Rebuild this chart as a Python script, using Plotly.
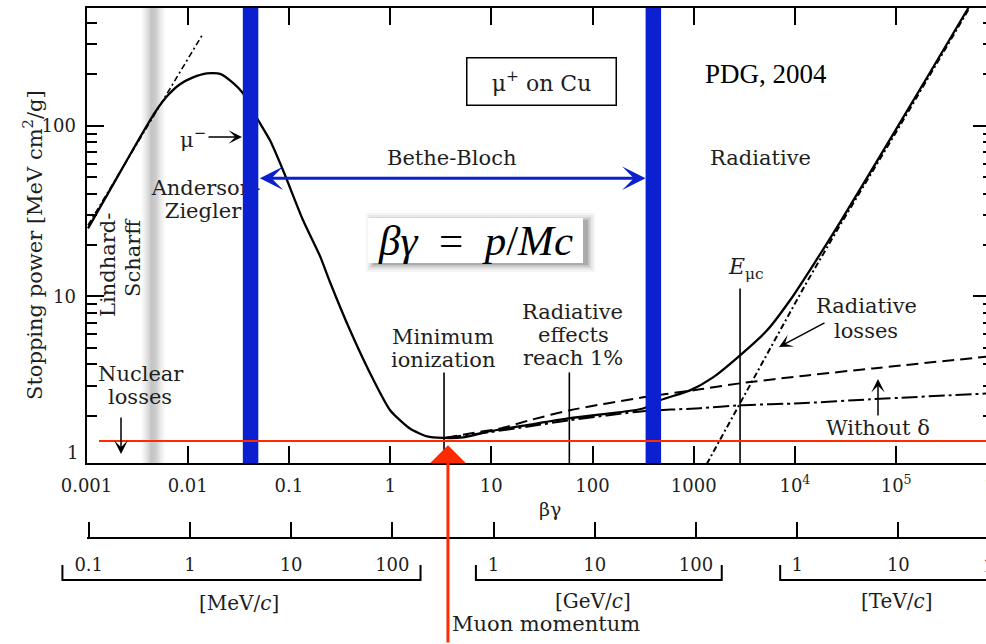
import math
import plotly.graph_objects as go

# ---------------------------------------------------------------
# Stopping power of positive muons in copper as a function of βγ
# ---------------------------------------------------------------

# total stopping power (solid)
bg_total = [0.001035, 0.00136, 0.002143, 0.003378, 0.004751, 0.006243, 0.008391, 0.011282,
            0.015511, 0.020855, 0.028033, 0.0352, 0.0496, 0.065, 0.0875, 0.138, 0.203, 0.255,
            0.402, 0.634, 1.0, 1.57, 2.32, 3.33, 5.25, 9.7, 24.1, 60.0, 149, 316, 465, 920,
            1552, 2870, 5310, 8950, 15100, 27900, 93200, 500800, 600800]
dedx_total = [25.0, 33.2, 53.3, 85.5, 119.8, 148.7, 174.9, 192.2,
              202.9, 201.5, 178.4, 155, 108, 82.1, 54.8, 27.9, 17.2, 12.1,
              6.32, 3.54, 2.15, 1.68, 1.51, 1.48, 1.49, 1.62, 1.77, 1.93, 2.06, 2.20, 2.46, 2.81,
              3.35, 4.51, 6.32, 9.48, 15.2, 27.1, 89.0, 475, 581]

# radiative losses (dotted)
bg_radiative = [1154, 1353, 2867, 6075, 12880, 27900, 93200, 500800, 600800]
dedx_radiative = [0.881, 1.05, 2.36, 5.30, 11.9, 26.1, 85.5, 462, 558]

# ionization without the density-effect correction δ (dashed)
bg_no_delta = [3.49, 6.16, 12.2, 24.1, 59.9, 316, 1154, 2867, 13200, 59100, 847000]
dedx_no_delta = [1.48, 1.57, 1.68, 1.88, 2.15, 2.56, 2.85, 3.09, 3.44, 3.78, 4.45]

# ionization losses (dash-dot)
bg_ionization = [3.49, 9.7, 24.1, 59.9, 316, 1154, 2867, 11230, 55240, 847000]
dedx_ionization = [1.48, 1.60, 1.73, 1.88, 2.12, 2.21, 2.30, 2.36, 2.49, 2.70]

# Lindhard-Scharff low-energy behaviour (dash-dot)
bg_lindhard = [0.001035, 0.01386]
dedx_lindhard = [26.1, 338.8]

# vertical markers: minimum ionization, radiative effects reach 1%, E_μc
marker_bg = [3.41, 59.0, 2870]
marker_top = [3.58, 3.58, 11.1]

# Bethe-Bloch validity window and the minimum-ionization level
bethe_limits_bg = [0.0418, 399]
bethe_arrow_dedx = 49.2
mip_level = 1.42
mip_bg = 3.73
mip_arrow_tip = 1.34

# shaded transition between Lindhard-Scharff and Anderson-Ziegler
band_bg = [0.00345, 0.0061]

# axis ticks
bg_ticks = [1e-3, 1e-2, 1e-1, 1, 10, 100, 1000, 1e4, 1e5]
bg_ticktext = ["0.001", "0.01", "0.1", "1", "10", "100", "1000",
               "10<sup>4</sup>", "10<sup>5</sup>"]
dedx_ticks = [10, 100]
dedx_ticktext = ["10", "100"]
dedx_minor = [2, 3, 4, 5, 6, 7, 8, 9, 20, 30, 40, 50, 60, 70, 80, 90, 200, 300, 400]
p_ticks_mev = [0.1, 1, 10, 100, 1e3, 1e4, 1e5, 1e6, 1e7]
p_ticktext = ["0.1", "1", "10", "100", "1", "10", "100", "1", "10"]

# momentum brackets [MeV/c], [GeV/c], [TeV/c]  (limits in MeV/c)
bracket_mev = [0.055, 190]
bracket_gev = [670, 1.8e5]
bracket_tev = [6.8e5, 1e9]

# ---------------------------------------------------------------
# geometry
# ---------------------------------------------------------------
W, H = 986, 644
TOP = 8
PAPER_H = H - TOP
AXIS_LEFT_PX = 86.5
AXIS_BOTTOM_PX = 463
MOMENTUM_AXIS_PX = 538
X_RANGE = [-3.0, 5.888]
Y_RANGE = [0.023, 2.690]
PX_PER_DEC = (W - AXIS_LEFT_PX) / (X_RANGE[1] - X_RANGE[0])
P_RANGE = [-1.0217, -1.0217 + X_RANGE[1] - X_RANGE[0]]
P3_RANGE = [P_RANGE[0] - AXIS_LEFT_PX / PX_PER_DEC, P_RANGE[1]]
Y_DOMAIN = [(H - AXIS_BOTTOM_PX) / PAPER_H, 1.0]
BRACKET_Y, BRACKET_CAP = H - 580, H - 565

SERIF = "DejaVu Serif"
TIMES = "Liberation Serif"
INK = "#1e1e1e"
BLUE = "#0b20cf"
RED = "#ff2a00"
BAR_W = 15.5


def paper(xp, yp):
    return xp / W, (H - yp) / PAPER_H


def to_data(xp, yp):
    lx = X_RANGE[0] + (xp - AXIS_LEFT_PX) / PX_PER_DEC
    ly = Y_RANGE[0] + (AXIS_BOTTOM_PX - yp) * (Y_RANGE[1] - Y_RANGE[0]) / (AXIS_BOTTOM_PX - TOP)
    return 10 ** lx, 10 ** ly


fig = go.Figure()


def add_line(x, y, dash="solid", width=2.2, color="black", xaxis="x", yaxis="y",
             shape="linear"):
    line = dict(color=color, width=width, dash=dash, shape=shape)
    if shape == "spline":
        line["smoothing"] = 0.6
    fig.add_trace(go.Scatter(x=x, y=y, mode="lines", xaxis=xaxis, yaxis=yaxis,
                             line=line, hoverinfo="skip", showlegend=False))


# shaded band
fig.add_trace(go.Scatter(
    x=[band_bg[0], band_bg[1], band_bg[1], band_bg[0], band_bg[0]],
    y=[0.5, 0.5, 1000, 1000, 0.5], mode="none", fill="toself",
    fillgradient=dict(type="horizontal", colorscale=[
        [0.0, "rgb(255,255,255)"], [0.2, "rgb(232,232,232)"], [0.42, "rgb(196,196,196)"],
        [0.6, "rgb(205,205,205)"], [0.8, "rgb(236,236,236)"], [1.0, "rgb(255,255,255)"]]),
    hoverinfo="skip", showlegend=False))

# curves
add_line(bg_lindhard, dedx_lindhard, dash="6px,3px,2px,3px", width=1.6)
add_line(bg_no_delta, dedx_no_delta, dash="12px,6px", width=2, shape="spline")
add_line(bg_ionization, dedx_ionization, dash="16px,4px,3px,4px", width=2, shape="spline")
add_line(bg_radiative, dedx_radiative, dash="6px,3px,2px,3px", width=2)
add_line(bg_total, dedx_total, width=2.3, shape="spline")

# vertical marker lines
for b, top in zip(marker_bg, marker_top):
    add_line([b, b], [0.5, top], width=1.6)

# labels partly hidden behind the blue limits
for text, xp, yp in [("Anderson-", 206, 190), ("Ziegler", 203, 213)]:
    dx, dy = to_data(xp, yp)
    fig.add_trace(go.Scatter(x=[dx], y=[dy], mode="text", text=[text],
                             textposition="middle center",
                             textfont=dict(family=SERIF, size=21, color=INK),
                             hoverinfo="skip", showlegend=False))

# Bethe-Bloch limits
for b in bethe_limits_bg:
    add_line([b, b], [0.5, 1000], width=BAR_W, color=BLUE)

# minimum-ionization level
add_line([0.00133, 1e7], [mip_level, mip_level], width=2, color=RED)

# helper traces so the overlay axes are drawn
fig.add_trace(go.Scatter(x=[1], y=[10], yaxis="y2", mode="markers",
                         marker=dict(opacity=0), hoverinfo="skip", showlegend=False))
fig.add_trace(go.Scatter(x=[10], y=[10], xaxis="x2", mode="markers",
                         marker=dict(opacity=0), hoverinfo="skip", showlegend=False))

# momentum brackets
for lo, hi in (bracket_mev, bracket_gev, bracket_tev):
    add_line([lo, lo, hi, hi], [BRACKET_CAP, BRACKET_Y, BRACKET_Y, BRACKET_CAP],
             width=2, xaxis="x3", yaxis="y3")

# ---------------------------------------------------------------
# annotations
# ---------------------------------------------------------------
ann = []


def label(text, xp, yp, size=21, family=SERIF, color=INK, angle=0, **kw):
    x, y = paper(xp, yp)
    d = dict(text=text, x=x, y=y, xref="paper", yref="paper", showarrow=False,
             font=dict(family=family, size=size, color=color), textangle=angle,
             xanchor="center", yanchor="middle")
    d.update(kw)
    ann.append(d)


def arrow(head, tail, width=1.5, size=1.5, color="black"):
    x, y = paper(*head)
    ann.append(dict(x=x, y=y, xref="paper", yref="paper", text="", showarrow=True,
                    ax=tail[0] - head[0], ay=tail[1] - head[1],
                    axref="pixel", ayref="pixel", arrowhead=3,
                    arrowsize=size, arrowwidth=width, arrowcolor=color))


label("PDG, 2004", 766, 74, size=27, family=TIMES, color="black")
label("μ<sup>+</sup> on Cu", 541.5, 82, size=22, bordercolor="black", borderwidth=1.5,
      borderpad=0, width=148, height=46, bgcolor="white")
label("Bethe-Bloch", 451, 158)
label("Radiative", 760, 158)
label("Lindhard-", 108, 265, angle=-90)
label("Scharff", 133, 258, angle=-90)
label("μ<sup>−</sup>", 193, 138)
label("Nuclear", 141, 374)
label("losses", 140, 397)
label("Minimum", 443, 337)
label("ionization", 443, 360)
label("Radiative", 572, 312)
label("effects", 573, 335)
label("reach 1%", 573, 358)
label("<i>E</i><sub>μc</sub>", 746, 268, size=22)
label("Radiative", 866, 306)
label("losses", 866, 331)
label("Without δ", 878, 428)
label("1", 72, 452, size=18)
label("10<sup>6</sup>", 999, 484, size=18)
label("βγ", 550, 509, size=19)
label("100", 1000, 565, size=18)
label("[MeV/<i>c</i>]", 239, 603, size=20)
label("[GeV/<i>c</i>]", 593, 601, size=20)
label("[TeV/<i>c</i>]", 897, 601, size=20)
label("Muon momentum", 546, 624, size=21)
label("Stopping power [MeV cm<sup>2</sup>/g]", 33, 245, size=21, angle=-90)

arrow((242, 137), (207, 137))
arrow((121, 454), (121, 416))
arrow((779, 347), (826, 322))
arrow((878, 379), (878, 417))

# formula box with a soft drop shadow
shapes = []
bx0, by0, bx1, by1 = 368, 218, 583, 263
for d, a in [(7, 0.04), (5, 0.05), (3, 0.07), (1.5, 0.09), (0, 0.12)]:
    x0, y0 = paper(bx0 + 5 - d, by1 + 2 + d)
    x1, y1 = paper(bx1 + 5 + d, by0 + 2 - d)
    shapes.append(dict(type="rect", xref="paper", yref="paper", x0=x0, y0=y0, x1=x1, y1=y1,
                       line=dict(width=0), fillcolor=f"rgba(0,0,0,{a})", layer="above"))
x0, y0 = paper(bx0, by1)
x1, y1 = paper(bx1, by0)
shapes.append(dict(type="rect", xref="paper", yref="paper", x0=x0, y0=y0, x1=x1, y1=y1,
                   line=dict(width=0), fillcolor="white", layer="above"))
label("<i>βγ</i>\u2002=\u2002<i>p</i>/<i>Mc</i>", 475, 240, size=43, family=TIMES,
      color="black")

# Bethe-Bloch range arrow between the two limits
half_bar = (BAR_W / 2) / PX_PER_DEC
ann.append(dict(x=math.log10(bethe_limits_bg[1]) - half_bar, y=math.log10(bethe_arrow_dedx),
                ax=math.log10(bethe_limits_bg[0]) + half_bar, ay=math.log10(bethe_arrow_dedx),
                xref="x", yref="y", axref="x", ayref="y", text="", showarrow=True,
                arrowside="end+start", arrowhead=3, startarrowhead=3,
                arrowsize=1.3, startarrowsize=1.3, arrowwidth=3, arrowcolor=BLUE))

# arrow marking the minimum-ionization momentum
ann.append(dict(x=math.log10(mip_bg), y=math.log10(mip_arrow_tip), xref="x", yref="y",
                ax=0, ay=215, axref="pixel", ayref="pixel", text="", showarrow=True,
                arrowhead=1, arrowsize=2.0, arrowwidth=3, arrowcolor=RED))

tickfont = dict(family=SERIF, size=18, color=INK)
fig.update_layout(
    width=W, height=H, template="none",
    margin=dict(l=0, r=0, t=TOP, b=0, pad=0),
    paper_bgcolor="white", plot_bgcolor="white", showlegend=False,
    xaxis=dict(type="log", domain=[AXIS_LEFT_PX / W, 1], range=X_RANGE, anchor="y",
               showline=True, linecolor="black", linewidth=2, mirror="ticks",
               ticks="inside", ticklen=17, tickwidth=2, tickcolor="black",
               tickmode="array", tickvals=bg_ticks, ticktext=bg_ticktext,
               tickfont=tickfont, ticklabelstandoff=5, showgrid=False, zeroline=False),
    yaxis=dict(type="log", domain=Y_DOMAIN, range=Y_RANGE, anchor="x",
               showline=True, linecolor="black", linewidth=2,
               ticks="inside", ticklen=17, tickwidth=2, tickcolor="black",
               tickmode="array", tickvals=dedx_ticks, ticktext=dedx_ticktext,
               tickfont=tickfont, ticklabelstandoff=5, showgrid=False, zeroline=False,
               minor=dict(ticks="inside", ticklen=10, tickwidth=1.6, tickcolor="black",
                          tickmode="array", tickvals=dedx_minor, showgrid=False)),
    yaxis2=dict(type="log", overlaying="y", side="right", anchor="x", range=Y_RANGE,
                showline=False, ticks="inside", ticklen=13, tickwidth=2, tickcolor="black",
                tickmode="array", tickvals=dedx_ticks, showticklabels=False,
                showgrid=False, zeroline=False,
                minor=dict(ticks="inside", ticklen=3, tickwidth=1.5, tickcolor="black",
                           tickmode="array", tickvals=dedx_minor, showgrid=False)),
    xaxis2=dict(type="log", overlaying="x", anchor="free",
                position=(H - MOMENTUM_AXIS_PX) / PAPER_H, range=P_RANGE,
                showline=True, linecolor="black", linewidth=2,
                ticks="inside", ticklen=15, tickwidth=2, tickcolor="black",
                tickmode="array", tickvals=p_ticks_mev, ticktext=p_ticktext,
                tickfont=tickfont, ticklabelstandoff=10, showgrid=False, zeroline=False),
    xaxis3=dict(type="log", domain=[0, 1], range=P3_RANGE, anchor="y3", visible=False),
    yaxis3=dict(domain=[0, Y_DOMAIN[0]], range=[0, H - AXIS_BOTTOM_PX], anchor="x3",
                visible=False),
    annotations=ann,
    shapes=shapes,
)

fig.write_html("out.html")
